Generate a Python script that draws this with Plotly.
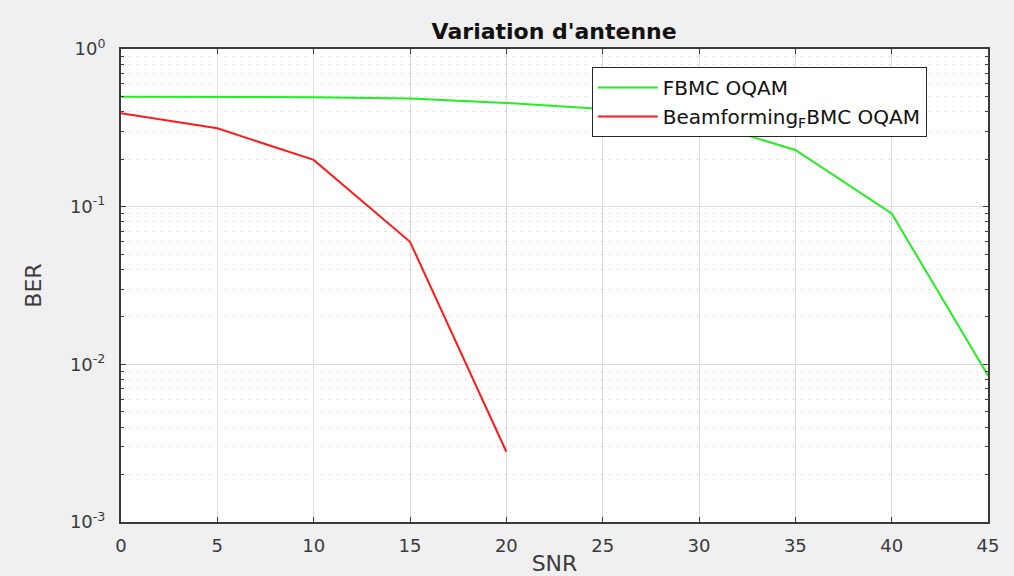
import plotly.graph_objects as go

# SNR points (dB) and measured bit error rates
snr = [0, 5, 10, 15, 20, 25, 30, 35, 40, 45]
ber_fbmc = [0.498, 0.498, 0.495, 0.486, 0.455, 0.416, 0.35, 0.229, 0.0906, 0.0085]
snr_bf = [0, 5, 10, 15, 20]
ber_bf = [0.391, 0.314, 0.198, 0.0599, 0.00279]

y_tickvals = [1e-3, 1e-2, 1e-1, 1]
y_ticktext = ["10<sup>-3</sup>", "10<sup>-2</sup>", "10<sup>-1</sup>", "10<sup>0</sup>"]
x_tickvals = [0, 5, 10, 15, 20, 25, 30, 35, 40, 45]

font_family = "DejaVu Sans, Verdana, sans-serif"
axis_color = "#3a3a3a"

fig = go.Figure()
fig.add_trace(go.Scatter(
    x=snr, y=ber_fbmc, mode="lines", name="FBMC OQAM",
    line=dict(color="#22ee22", width=2),
))
fig.add_trace(go.Scatter(
    x=snr_bf, y=ber_bf, mode="lines", name="Beamforming<sub>F</sub>BMC OQAM",
    line=dict(color="#ff1a1a", width=2),
))

fig.update_layout(
    width=1014, height=576,
    paper_bgcolor="#f0f0f0",
    plot_bgcolor="white",
    margin=dict(l=121, r=26, t=49, b=54, autoexpand=False),
    font=dict(family=font_family, color=axis_color),
    title=dict(
        text="<b>Variation d'antenne</b>",
        x=0.5465, xanchor="center", y=0.946, yanchor="middle",
        font=dict(size=22, color="#111111", family=font_family),
    ),
    legend=dict(
        x=0.543, xanchor="left", y=0.962, yanchor="top",
        bgcolor="white", bordercolor="#262626", borderwidth=1,
        font=dict(size=20, color="#111111", family=font_family),
        itemwidth=60, tracegroupgap=0,
    ),
    showlegend=True,
)

fig.update_xaxes(
    range=[0, 45],
    tickvals=x_tickvals,
    tickfont=dict(size=18, color=axis_color),
    ticks="inside", ticklen=5, tickcolor=axis_color,
    ticklabelstandoff=6,
    showline=True, linecolor=axis_color, linewidth=2, mirror="allticks",
    showgrid=True, gridcolor="#dddddd", gridwidth=1,
    zeroline=False, automargin=False,
    title=dict(text="SNR", font=dict(size=22, color=axis_color), standoff=8),
)

fig.update_yaxes(
    type="log",
    range=[-3, 0],
    tickvals=y_tickvals, ticktext=y_ticktext,
    tickfont=dict(size=18, color=axis_color),
    ticks="inside", ticklen=5, tickcolor=axis_color,
    ticklabelstandoff=10,
    showline=True, linecolor=axis_color, linewidth=2, mirror="allticks",
    showgrid=True, gridcolor="#dddddd", gridwidth=1,
    zeroline=False, automargin=False,
    minor=dict(
        tickvals=[m * 10 ** e for e in (-3, -2, -1) for m in range(2, 10)],
        ticks="inside", ticklen=3, tickcolor=axis_color,
        showgrid=True, gridcolor="#bbbbbb", griddash="1px,7px", gridwidth=1,
    ),
    title=dict(text="BER", font=dict(size=22, color=axis_color), standoff=22),
)

fig.write_html("out.html")
